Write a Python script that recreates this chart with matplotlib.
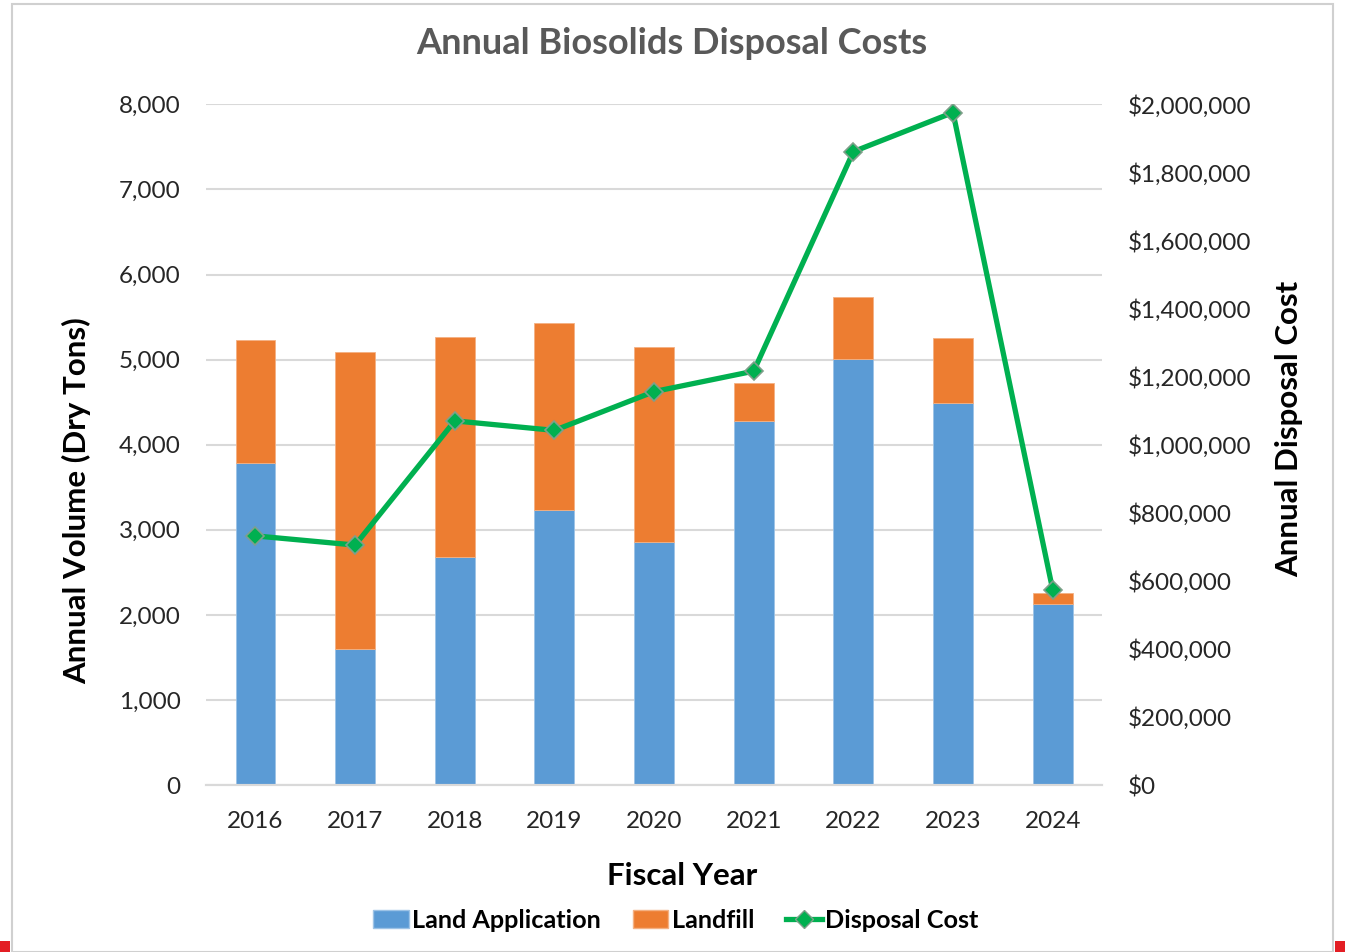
import numpy as np
import matplotlib.pyplot as plt
from matplotlib.lines import Line2D
from matplotlib.patches import Patch, Rectangle
from matplotlib.ticker import FuncFormatter, MultipleLocator

plt.rcParams['font.family'] = ['Lato', 'DejaVu Sans']

years = ['2016', '2017', '2018', '2019', '2020', '2021', '2022', '2023', '2024']
land_application = [3780, 1600, 2675, 3228, 2855, 4280, 5008, 4486, 2130]
landfill = [1455, 3495, 2585, 2197, 2293, 446, 730, 772, 125]
disposal_cost = [732000, 705000, 1070000, 1042000, 1156000, 1216000, 1861000, 1976000, 574000]

blue = '#5B9BD5'
orange = '#ED7D31'
green = '#00B050'
grid_c = '#D9D9D9'
text_c = '#262626'

W, H = 1345, 952
fig = plt.figure(figsize=(W / 100, H / 100), dpi=100)
ax = fig.add_axes([0.1529, 0.1754, 0.6668, 0.715])
ax2 = ax.twinx()

x = np.arange(len(years))
ax.bar(x, land_application, width=0.4, color=blue, edgecolor='#9DC3E6', linewidth=0.6, zorder=2)
ax.bar(x, landfill, width=0.4, bottom=land_application, color=orange,
       edgecolor='#F4B183', linewidth=0.6, zorder=2)

ax2.plot(x, disposal_cost, color=green, linewidth=3.8, marker='D', markersize=9.5,
         markerfacecolor=green, markeredgecolor='#7F9F8A', markeredgewidth=1.2, zorder=3)

ax.set_xlim(-0.5, len(years) - 0.5)
ax.set_ylim(0, 8000)
ax2.set_ylim(0, 2000000)
ax.yaxis.set_major_locator(MultipleLocator(1000))
ax2.yaxis.set_major_locator(MultipleLocator(200000))
ax.yaxis.set_major_formatter(FuncFormatter(lambda v, p: f'{v:,.0f}'))
ax2.yaxis.set_major_formatter(FuncFormatter(lambda v, p: f'${v:,.0f}'))
ax.set_xticks(x)
ax.set_xticklabels(years)

ax.grid(axis='y', color=grid_c, linewidth=1.5, zorder=0)
ax.set_axisbelow(True)
for a in (ax, ax2):
    for s in ('top', 'left', 'right'):
        a.spines[s].set_visible(False)
    a.spines['bottom'].set_color(grid_c)
    a.spines['bottom'].set_linewidth(1.5)
    a.tick_params(length=0, labelsize=17.5, colors=text_c)
ax.tick_params(axis='y', pad=18)
ax.tick_params(axis='x', pad=19)
ax2.tick_params(axis='y', pad=18)

lab = dict(fontsize=22.5, fontweight='bold', color='black', ha='center', va='center')
fig.text(682 / W, 1 - 876 / H, 'Fiscal Year', **lab)
fig.text(77 / W, 1 - 501 / H, 'Annual Volume (Dry Tons)', rotation=90, **lab)
fig.text(1289 / W, 1 - 429 / H, 'Annual Disposal Cost', rotation=90, **lab)

fig.text(672 / W, 1 - 44 / H, 'Annual Biosolids Disposal Costs', ha='center', va='center',
         fontsize=26, fontweight='bold', color='#595959')

handles = [Patch(facecolor=blue, edgecolor='#9DC3E6'),
           Patch(facecolor=orange, edgecolor='#F4B183'),
           Line2D([], [], color=green, linewidth=3.8, marker='D', markersize=9,
                  markerfacecolor=green, markeredgecolor='#7F9F8A')]
leg = fig.legend(handles, ['Land Application', 'Landfill', 'Disposal Cost'], loc='center',
                 bbox_to_anchor=(676 / W, 1 - 920 / H), ncol=3, frameon=False,
                 handlelength=1.4, handleheight=0.7, handletextpad=0.15, columnspacing=1.25,
                 prop={'size': 18.2, 'weight': 'bold'})

# chart frame and page corners
fig.patches.append(Rectangle((11.5 / W, 0), (1333 - 11.5) / W, 1 - 3.5 / H,
                             transform=fig.transFigure, fill=False, edgecolor='#D0D0D0', linewidth=1.5))
fig.patches.append(Rectangle((0, 0), 10 / W, 11 / H, transform=fig.transFigure,
                             facecolor='#E31E24', edgecolor='none'))
fig.patches.append(Rectangle((1335 / W, 0), 10 / W, 11 / H, transform=fig.transFigure,
                             facecolor='#E31E24', edgecolor='none'))

fig.savefig('out.png', dpi=100)
